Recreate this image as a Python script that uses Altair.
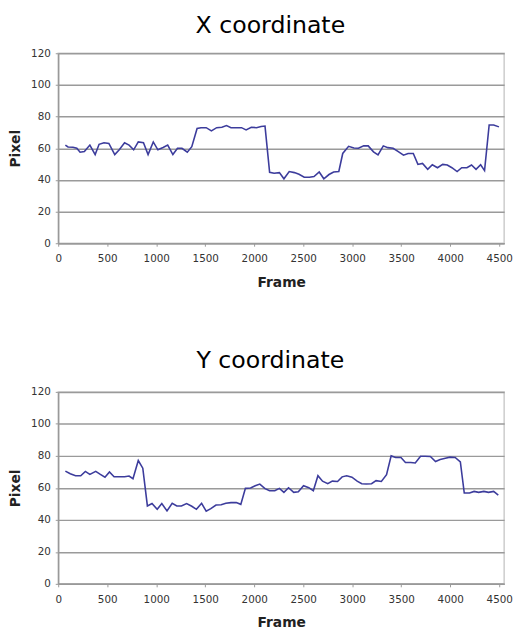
import altair as alt
import pandas as pd

x_frames = [73, 100, 150, 190, 223, 267, 323, 377, 417, 467, 517, 577, 623, 677, 723, 770,
            817, 870, 917, 970, 1017, 1070, 1117, 1170, 1217, 1263, 1317, 1363, 1417, 1457,
            1510, 1563, 1617, 1670, 1717, 1763, 1817, 1870, 1917, 1970, 2023, 2070, 2110,
            2157, 2203, 2257, 2303, 2357, 2410, 2457, 2510, 2563, 2610, 2663, 2710, 2763,
            2810, 2863, 2903, 2963, 3017, 3063, 3117, 3163, 3217, 3263, 3317, 3363, 3417,
            3470, 3523, 3570, 3623, 3670, 3717, 3770, 3817, 3870, 3923, 3970, 4017, 4070,
            4117, 4170, 4217, 4263, 4310, 4350, 4397, 4443, 4497]
x_pixels = [62, 60.8, 60.6, 60, 57.5, 58, 62, 56, 62.5, 63.5, 63, 56, 59, 63.5, 62, 59,
            64, 63.5, 56, 64, 59, 60.5, 62, 56, 60, 60, 57.5, 61, 72.5, 73,
            73, 71, 73, 73.3, 74.3, 73, 73, 73, 71.6, 73.3, 73, 73.7, 74,
            44.8, 44.2, 44.6, 40.7, 45.3, 44.6, 43.6, 41.7, 41.7, 42.1, 45, 40.7, 43.4,
            45, 45.3, 56.7, 61.2, 60.2, 60, 61.5, 61.5, 57.7, 55.8, 61.5, 60.4, 60,
            57.9, 55.6, 56.7, 56.7, 49.8, 50.4, 46.7, 49.6, 47.7, 49.8, 49.4, 47.7, 45.3,
            47.7, 47.7, 49.4, 46.7, 49.6, 45.9, 74.7, 74.7, 73.5]

y_frames = [73, 123, 177, 230, 277, 323, 383, 430, 477, 523, 570, 623, 677, 723, 763, 817,
            863, 910, 957, 1010, 1057, 1110, 1163, 1210, 1257, 1310, 1363, 1410, 1463, 1510,
            1557, 1610, 1663, 1710, 1763, 1817, 1863, 1910, 1963, 2010, 2057, 2110, 2157,
            2210, 2257, 2303, 2350, 2403, 2450, 2503, 2557, 2603, 2650, 2697, 2750, 2797,
            2850, 2897, 2943, 2997, 3050, 3097, 3143, 3197, 3243, 3297, 3350, 3397, 3443,
            3497, 3543, 3597, 3643, 3697, 3743, 3797, 3850, 3897, 3950, 3997, 4050, 4103,
            4143, 4197, 4243, 4290, 4343, 4390, 4443, 4490]
y_pixels = [70.5, 68.8, 67.6, 67.6, 70.3, 68.4, 70.3, 68.4, 66.7, 70, 67, 67, 67, 67.4, 65.7, 77.1,
            72.3, 48.7, 50.2, 46.6, 50.2, 45.6, 50.4, 48.7, 48.7, 50.2, 48.5, 46.6, 50.4, 45.4,
            47, 49.3, 49.5, 50.4, 50.8, 50.8, 49.7, 59.7, 59.9, 61.3, 62.4, 59.5, 58.2,
            58.2, 59.7, 57.2, 60.1, 57.2, 57.6, 61.3, 60.1, 58.2, 67.6, 64.2, 62.6, 64.2,
            64, 66.9, 67.6, 66.7, 64.2, 62.6, 62.4, 62.6, 64.5, 64, 68.2, 80, 79,
            79, 75.9, 75.9, 75.6, 79.8, 79.8, 79.6, 76.5, 77.7, 78.5, 79.2, 79, 76.3,
            56.8, 56.8, 57.8, 57.2, 57.8, 57.2, 57.8, 55.5]

x_ticks = [0, 500, 1000, 1500, 2000, 2500, 3000, 3500, 4000, 4500]
y_ticks = [0, 20, 40, 60, 80, 100, 120]


def panel(frames, vals, title, h, off):
    df = pd.DataFrame({"Frame": frames, "Pixel": vals})
    return alt.Chart(
        df,
        title=alt.TitleParams(title, fontSize=24, font="DejaVu Sans", fontWeight="normal",
                              color="#000", offset=off, dx=-11, dy=-2, anchor="middle"),
    ).mark_line(color="#3c3c9c", strokeWidth=1.6).encode(
        x=alt.X("Frame:Q", scale=alt.Scale(domain=[0, 4550], nice=False),
                axis=alt.Axis(values=x_ticks, title="Frame", grid=False, format="d",
                              labelFont="DejaVu Sans", labelFontSize=10.5, labelColor="#333",
                              titleFont="DejaVu Sans", titleFontSize=14, titleFontWeight="bold",
                              titleColor="#222", titlePadding=11, labelPadding=8,
                              domainColor="#999", domainWidth=1.5, tickColor="#999",
                              tickSize=3, labelFlush=False)),
        y=alt.Y("Pixel:Q", scale=alt.Scale(domain=[0, 120], nice=False),
                axis=alt.Axis(values=y_ticks, title="Pixel", grid=True, gridColor="#9a9a9a",
                              gridWidth=1.5, labelFont="DejaVu Sans", labelFontSize=10.5,
                              labelColor="#333", titleFont="DejaVu Sans", titleFontSize=14,
                              titleFontWeight="bold", titleColor="#222", titlePadding=8,
                              labelPadding=5, domainColor="#999", domainWidth=1.5,
                              tickColor="#999", tickSize=3)),
    ).properties(width=453, height=h)


top = panel(x_frames, x_pixels, "X coordinate", 193, 9)
bottom = panel(y_frames, y_pixels, "Y coordinate", 195, 12)

chart = alt.vconcat(top, bottom, spacing=59).properties(padding=0).configure_view(
    stroke="#cccccc", strokeWidth=1.5
)

chart.save("out.html", embed_options={"renderer": "svg", "actions": False})
